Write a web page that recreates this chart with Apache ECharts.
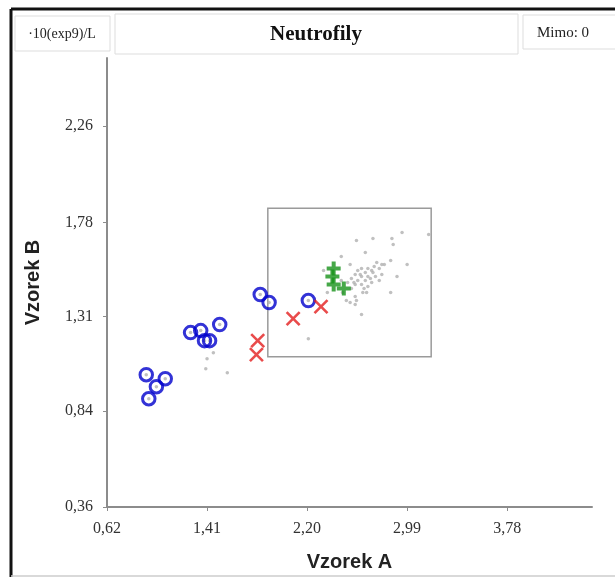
<!DOCTYPE html>
<html>
<head>
<meta charset="utf-8">
<script src="https://cdn.jsdelivr.net/npm/echarts@6/dist/echarts.min.js"></script>
<style>
  html, body { margin: 0; padding: 0; background: #fff; }
  #chart { width: 615px; height: 577px; }
</style>
</head>
<body>
<div id="chart"></div>
<script>
// tick labels
const xTicks = [0.62, 1.41, 2.20, 2.99, 3.78];
const yTicks = [0.36, 0.84, 1.31, 1.78, 2.26];

// blue circles [A, B]
const bluePoints = [
  [0.93, 1.02], [1.08, 1.00], [1.01, 0.96], [0.95, 0.90],
  [1.28, 1.23], [1.36, 1.24], [1.39, 1.19], [1.43, 1.19], [1.51, 1.27],
  [1.83, 1.42], [1.90, 1.38], [2.21, 1.39]
];
// red crosses
const redPoints = [[1.81, 1.19], [1.80, 1.12], [2.09, 1.30], [2.31, 1.36]];
// green pluses
const greenPoints = [[2.41, 1.55], [2.40, 1.51], [2.41, 1.47], [2.49, 1.45]];
// grey background points
const greyPoints = [
  [3.16, 1.72], [2.95, 1.73], [2.87, 1.70], [2.88, 1.67], [2.72, 1.70],
  [2.59, 1.69], [2.66, 1.63], [2.47, 1.61], [2.99, 1.57], [2.86, 1.59],
  [2.81, 1.57], [2.75, 1.58], [2.79, 1.57], [2.73, 1.56], [2.54, 1.57],
  [2.63, 1.55], [2.68, 1.55], [2.60, 1.54], [2.71, 1.54], [2.66, 1.53],
  [2.58, 1.52], [2.63, 1.51], [2.68, 1.51], [2.74, 1.51], [2.55, 1.50],
  [2.60, 1.49], [2.66, 1.49], [2.71, 1.48], [2.77, 1.49], [2.91, 1.51],
  [2.52, 1.48], [2.58, 1.47], [2.63, 1.47], [2.68, 1.46], [2.36, 1.43],
  [2.55, 1.45], [2.67, 1.43], [2.64, 1.43], [2.58, 1.41], [2.86, 1.43],
  [2.51, 1.39], [2.59, 1.39], [2.54, 1.38], [2.58, 1.37], [2.63, 1.32],
  [2.33, 1.54], [2.79, 1.52], [2.77, 1.55], [2.47, 1.49], [2.48, 1.43],
  [2.62, 1.52], [2.70, 1.50], [2.57, 1.48], [2.65, 1.45], [2.72, 1.53],
  [1.46, 1.13], [1.41, 1.10], [1.40, 1.05], [1.57, 1.03], [2.21, 1.20]
];
// inner reference box
const boxA = [1.89, 3.18];
const boxB = [1.11, 1.85];

const fmt = v => v.toFixed(2).replace('.', ',');
const serif = '"Liberation Serif", "DejaVu Serif", serif';
const sans = '"Liberation Sans", Arial, sans-serif';

const chart = echarts.init(document.getElementById('chart'));

const option = {
  backgroundColor: '#ffffff',
  animation: false,
  grid: { left: 107, top: 58, right: 23, bottom: 70 },
  xAxis: {
    type: 'value',
    min: 0.62,
    max: 4.45,
    name: 'Vzorek A',
    nameLocation: 'middle',
    nameGap: 45,
    nameTextStyle: { fontFamily: sans, fontWeight: 'bold', fontSize: 20, color: '#222' },
    axisLine: { show: true, onZero: false, lineStyle: { color: '#8c8c8c', width: 2 } },
    axisTick: { show: true, length: 4, customValues: xTicks, lineStyle: { color: '#8c8c8c' } },
    axisLabel: {
      customValues: xTicks,
      formatter: fmt,
      margin: 14,
      fontFamily: serif,
      fontSize: 16,
      color: '#333'
    },
    splitLine: { show: false }
  },
  yAxis: {
    type: 'value',
    min: 0.36,
    max: 2.60,
    name: 'Vzorek B',
    nameLocation: 'middle',
    nameGap: 64,
    nameTextStyle: { fontFamily: sans, fontWeight: 'bold', fontSize: 20, color: '#222' },
    axisLine: { show: true, onZero: false, lineStyle: { color: '#8c8c8c', width: 2 } },
    axisTick: { show: true, length: 4, customValues: yTicks, lineStyle: { color: '#8c8c8c' } },
    axisLabel: {
      customValues: yTicks,
      formatter: fmt,
      margin: 14,
      fontFamily: serif,
      fontSize: 16,
      color: '#333'
    },
    splitLine: { show: false }
  },
  graphic: [
    // outer frame
    { type: 'line', shape: { x1: 11, y1: 9, x2: 615, y2: 9 }, style: { stroke: '#111', lineWidth: 3 } },
    { type: 'line', shape: { x1: 11, y1: 9, x2: 11, y2: 577 }, style: { stroke: '#111', lineWidth: 3 } },
    { type: 'line', shape: { x1: 11, y1: 576, x2: 615, y2: 576 }, style: { stroke: '#ccc', lineWidth: 1.5 } },
    // header boxes
    { type: 'rect', shape: { x: 15, y: 16, width: 95, height: 35 }, style: { fill: '#fff', stroke: '#ddd', lineWidth: 1 } },
    { type: 'rect', shape: { x: 115, y: 14, width: 403, height: 40 }, style: { fill: '#fff', stroke: '#ddd', lineWidth: 1 } },
    { type: 'rect', shape: { x: 523, y: 15, width: 100, height: 34 }, style: { fill: '#fff', stroke: '#ddd', lineWidth: 1 } },
    { type: 'text', x: 62, y: 34, style: { text: '·10(exp9)/L', font: '14px ' + serif, fill: '#222', align: 'center', verticalAlign: 'middle' } },
    { type: 'text', x: 316, y: 35, style: { text: 'Neutrofily', font: 'bold 21px ' + serif, fill: '#111', align: 'center', verticalAlign: 'middle' } },
    { type: 'text', x: 563, y: 33, style: { text: 'Mimo: 0', font: '15px ' + serif, fill: '#222', align: 'center', verticalAlign: 'middle' } }
  ],
  series: [
    {
      name: 'grey',
      type: 'scatter',
      symbol: 'circle',
      symbolSize: 3.5,
      itemStyle: { color: '#b0b0b0' },
      data: greyPoints.concat(bluePoints),
      silent: true,
      markArea: {
        silent: true,
        itemStyle: { color: 'rgba(0,0,0,0)', borderColor: '#9a9a9a', borderWidth: 1.5 },
        data: [[{ coord: [boxA[0], boxB[1]] }, { coord: [boxA[1], boxB[0]] }]]
      }
    },
    {
      name: 'blue',
      type: 'scatter',
      symbol: 'circle',
      symbolSize: 12.5,
      itemStyle: { color: 'rgba(0,0,0,0)', borderColor: '#0000cc', borderWidth: 3 },
      data: bluePoints
    },
    {
      name: 'red',
      type: 'scatter',
      symbol: 'path://M0,0L10,10M10,0L0,10',
      symbolSize: 13,
      itemStyle: { color: 'none', borderColor: '#e41e1e', borderWidth: 2.6 },
      data: redPoints
    },
    {
      name: 'green',
      type: 'scatter',
      symbol: 'path://M5,0L5,10M0,5L10,5',
      symbolSize: 14,
      itemStyle: { color: 'none', borderColor: '#18921a', borderWidth: 4 },
      data: greenPoints
    }
  ]
};

chart.setOption(option);
</script>
</body>
</html>
